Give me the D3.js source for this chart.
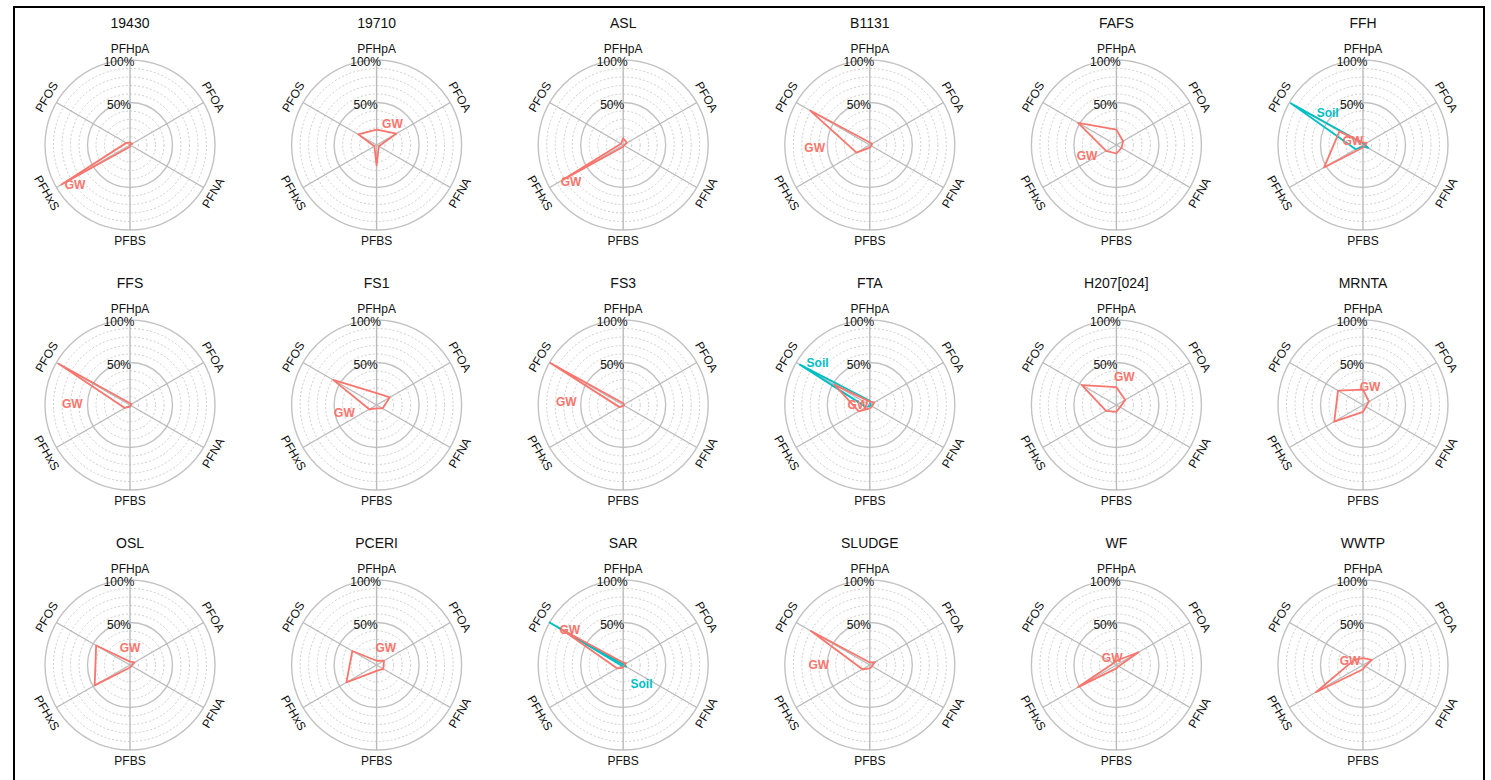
<!DOCTYPE html>
<html lang="en">
<head>
  <meta charset="UTF-8">
  <title>PFAS profiles by site</title>
  <script src="https://d3js.org/d3.v7.min.js"></script>
  <style>
    body { margin: 0; background: #fff; font-family: "Liberation Sans", Arial, sans-serif; }
    .title { font-size: 14px; fill: #111; text-anchor: middle; dominant-baseline: central; }
    .axis-label { font-size: 12px; fill: #111; text-anchor: middle; dominant-baseline: central; }
    .grid-label { font-size: 12px; fill: #111; text-anchor: middle; dominant-baseline: central; }
    .ring { fill: none; stroke: #c2c2c2; }
    .ring-major { stroke-width: 1.4px; }
    .ring-minor { stroke-width: 0.8px; stroke-dasharray: 2,2; }
    .spoke { stroke: #bababa; stroke-width: 1.4px; }
    .profile { fill: none; stroke-width: 1.8px; stroke-linejoin: round; }
    .series-label { font-size: 12px; font-weight: bold; text-anchor: middle; dominant-baseline: central; }
  </style>
</head>
<body>
  <svg id="chart" width="1491" height="780"></svg>

  <script>
    // axes, clockwise from the top
    const compounds = ["PFHpA", "PFOA", "PFNA", "PFBS", "PFHxS", "PFOS"];
    const sites = ["19430", "19710", "ASL", "B1131", "FAFS", "FFH",
                   "FFS", "FS1", "FS3", "FTA", "H207[024]", "MRNTA",
                   "OSL", "PCERI", "SAR", "SLUDGE", "WF", "WWTP"];

    // % of total, one row per site, same order as compounds
    const gwValues = [
      [3, 3, 0, 2, 93, 5],
      [18, 27, 3, 24, 3, 25],
      [8, 5, 1, 2, 82, 3],
      [3, 3, 2, 3, 18, 81],
      [18, 9, 7, 10, 14, 52],
      [3, 5, 2, 3, 53, 32],
      [2, 2, 1, 2, 7, 97],
      [14, 18, 8, 4, 10, 59],
      [2, 1, 1, 1, 5, 99],
      [4, 6, 3, 4, 15, 48],
      [21, 12, 5, 8, 14, 47],
      [18, 8, 4, 8, 39, 34],
      [4, 6, 2, 3, 48, 46],
      [5, 10, 9, 7, 41, 33],
      [3, 4, 1, 3, 8, 84],
      [3, 7, 3, 4, 10, 80],
      [5, 30, 3, 4, 52, 4],
      [8, 12, 3, 5, 64, 12]
    ];
    const soilValues = [
      null, null, null, null, null,
      [2, 2, 7, 2, 10, 98],
      null, null, null,
      [5, 1, 1, 1, 5, 95],
      null, null, null, null,
      [1, 2, 4, 1, 2, 100],
      null, null, null
    ];

    // where the series names sit: [angle in degrees, % radius]
    const gwLabelAt = [
      [234, 80], [37, 31], [235, 75], [267, 65], [249, 37], [292, 13],
      [271, 68], [256, 39], [273, 67], [270, 14], [16, 34], [21, 23],
      [0, 20], [28, 23], [303, 75], [270, 60], [330, 10], [287, 16]
    ];
    const soilLabelAt = [
      null, null, null, null, null, [312, 56],
      null, null, null, [309, 79], null, null,
      null, null, [136, 31], null, null, null
    ];

    const seriesColor = { GW: "#F8766D", Soil: "#00BFC4" };

    const svg = d3.select("#chart");

    // outer frame
    svg.append("rect")
      .attr("x", 14).attr("y", 7)
      .attr("width", 1470).attr("height", 800)
      .attr("fill", "none")
      .attr("stroke", "#000")
      .attr("stroke-width", 2);

    const nCols = 6;
    const colX = d3.scaleLinear().domain([0, nCols - 1]).range([130, 1363]);
    const rowY = d3.scaleLinear().domain([0, 2]).range([145, 665]);

    const r = d3.scaleLinear().domain([0, 100]).range([0, 85]);
    const angle = d3.scalePoint().domain(compounds).range([0, 2 * Math.PI * 5 / 6]);
    const gridSteps = d3.range(10, 101, 10);

    const radial = d3.lineRadial()
      .angle((d, i) => angle(compounds[i]))
      .radius(d => r(d))
      .curve(d3.curveLinearClosed);

    function polar(deg, pct) {
      const a = deg * Math.PI / 180;
      return [Math.sin(a) * r(pct), -Math.cos(a) * r(pct)];
    }

    sites.forEach((site, k) => {
      const cx = colX(k % nCols);
      const cy = rowY(Math.floor(k / nCols));
      const g = svg.append("g").attr("transform", `translate(${cx},${cy})`);

      g.append("text").attr("class", "title").attr("y", -122).text(site);

      g.selectAll(".ring")
        .data(gridSteps)
        .enter()
        .append("circle")
        .attr("class", d => "ring " + (d % 50 === 0 ? "ring-major" : "ring-minor"))
        .attr("r", d => r(d));

      g.selectAll(".spoke")
        .data(compounds)
        .enter()
        .append("line")
        .attr("class", "spoke")
        .attr("x2", d => Math.sin(angle(d)) * r(100))
        .attr("y2", d => -Math.cos(angle(d)) * r(100));

      g.selectAll(".axis-label")
        .data(compounds)
        .enter()
        .append("text")
        .attr("class", "axis-label")
        .attr("transform", d => {
          const deg = angle(d) * 180 / Math.PI;
          const rot = (deg > 90 && deg < 270) ? deg - 180 : deg;
          const [x, y] = polar(deg, 113);
          return `translate(${x},${y}) rotate(${rot})`;
        })
        .text(d => d);

      [100, 50].forEach(v => {
        g.append("text")
          .attr("class", "grid-label")
          .attr("x", -11)
          .attr("y", -r(v) + 2)
          .text(v + "%");
      });

      const series = [{ name: "GW", values: gwValues[k], at: gwLabelAt[k] }];
      if (soilValues[k]) series.unshift({ name: "Soil", values: soilValues[k], at: soilLabelAt[k] });

      series.forEach(s => {
        g.append("path")
          .attr("class", "profile")
          .attr("stroke", seriesColor[s.name])
          .attr("d", radial(s.values));
      });
      series.forEach(s => {
        const [x, y] = polar(s.at[0], s.at[1]);
        g.append("text")
          .attr("class", "series-label")
          .attr("fill", seriesColor[s.name])
          .attr("x", x).attr("y", y)
          .text(s.name);
      });
    });
  </script>
</body>
</html>
